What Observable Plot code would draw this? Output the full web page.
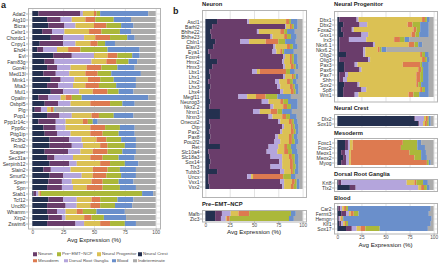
<!DOCTYPE html>
<html><head><meta charset="utf-8">
<script src="https://cdn.jsdelivr.net/npm/d3@7"></script>
<script src="https://cdn.jsdelivr.net/npm/@observablehq/plot@0.6"></script>
<style>
body{margin:0;background:#fff;}
#root{position:relative;width:440px;height:265px;overflow:hidden;font-family:"Liberation Sans",Arial,sans-serif;background:#fff;}
.t{position:absolute;white-space:nowrap;line-height:1;transform:translateY(-50%);}
.sw{position:absolute;width:3.5px;height:3.5px;transform:translateY(-50%);}
</style></head><body><div id="root"></div><script>
// stack order, left to right
const categories = ["Neural Crest","Neuron","Dorsal Root Ganglia","Neural Progenitor","Mesoderm","Pre−EMT−NCP","Blood","Indeterminate"];
const colors = ["#24304f","#6a3d6b","#b4a5dc","#dbc154","#dd7a50","#abb83a","#6a8fcb","#ababab"];
const legendRow1 = ["Neuron","Pre−EMT−NCP","Neural Progenitor","Neural Crest"];
const legendRow2 = ["Mesoderm","Dorsal Root Ganglia","Blood","Indeterminate"];
const xTicks = [0,25,50,75,100];

// panel a
const genesA = ["Adat2","Atg10","Bicra","Celsr1","Chordc1","Cnpy1","Ehd4","Evl","Fam83g","Gon4l","Med13l","Mink1","Mta3","Mul1","Opalin","Osbpl5","Plg","Pop1","Ppp1r14c","Ppp6c","Pttg1ip","Rc3h2","Rnd2","Scaper","Sec31a","Serpinb12","Slain2","Smurf2","Spen","Spn","Stab1","Tcf12","Unc80","Whamm","Xirp2","Zswim6"];
const valsA = [
[5,34,2,9,2,3,39,6],[12,11,9,11,8,15,14,20],[13,13,9,15,10,12,10,18],[8,8,10,20,10,15,9,20],
[15,10,17,9,12,14,6,17],[6,19,10,12,6,6,8,33],[4,5,11,9,10,22,26,13],[17,15,18,11,8,12,6,13],
[10,8,30,12,8,10,7,15],[12,8,11,13,12,13,14,17],[9,10,11,13,10,11,24,12],[15,8,11,11,10,11,18,16],
[12,9,12,10,11,14,16,16],[15,10,13,11,12,9,12,18],[5,8,10,4,5,8,54,6],[10,11,10,16,16,10,10,17],
[2,5,5,3,2,1,1,81],[12,10,10,16,6,12,16,18],[5,14,8,14,4,4,4,47],[9,10,8,20,12,12,12,17],
[10,10,11,16,10,13,13,17],[14,16,10,12,8,12,12,16],[14,18,9,14,6,14,9,16],[10,19,10,10,12,12,11,16],
[12,6,15,14,10,13,13,17],[14,16,6,19,8,12,11,14],[9,6,16,18,12,10,13,16],[14,11,15,9,11,12,12,16],
[13,11,8,16,9,13,12,18],[12,12,9,11,13,14,13,16],[1,2,2,1,1,82,9,2],[13,12,11,12,7,14,13,18],
[12,15,9,11,8,12,14,19],[12,8,7,9,5,11,23,25],[13,11,3,15,6,10,18,24],[12,23,7,13,8,12,9,16]];

// panel b
const genesNeuron = ["Ascl1","Barhl2","Bhlhe22","Bhlhe23","Cbln1","Elavl3","Eya1","Foxn4","Hmx2","Hmx3","Lbx1","Lhx1","Lhx2","Lhx3","Lhx4","Megf11","Neurog3","Nkx2.2","Nrxn1","Nrxn3","Onecut2","Otp","Pax2","Pax8","Pou2f2","Ret","Slc10a4","Slc18a3","Sox14","Tlx3","Tubb3","Uncx","Vsx1","Vsx2"];
const valsNeuron = [
[12,31,2,38,3,2,7,5],[7,75,1,4,2,2,4,5],[5,48,2,22,4,3,8,8],[6,61,2,12,3,4,6,6],
[10,26,9,17,13,7,11,7],[8,62,2,12,3,3,5,5],[3,66,4,4,2,2,10,9],[5,75,2,5,2,2,4,5],
[12,67,2,6,2,2,4,5],[7,73,2,6,3,2,3,4],[4,44,5,3,27,4,5,8],[5,75,2,7,2,2,3,4],
[3,69,4,8,3,3,4,6],[5,69,3,10,3,2,4,4],[4,73,3,8,3,2,3,4],[4,30,9,9,10,12,14,12],
[5,53,7,12,3,5,10,5],[4,63,3,10,4,4,7,5],[15,34,7,11,7,5,10,11],[15,50,4,10,4,4,7,6],
[4,71,2,9,3,2,4,5],[5,74,2,7,2,2,4,4],[4,73,2,9,3,2,3,4],[5,67,3,11,3,2,4,5],
[4,67,6,9,3,3,4,4],[15,50,10,6,3,4,6,6],[3,60,11,7,4,4,6,5],[4,63,12,7,3,3,4,4],
[5,71,3,8,3,2,4,4],[4,63,12,8,3,3,3,4],[12,65,4,7,2,2,4,4],[3,40,4,2,31,8,5,7],
[3,74,4,8,3,2,3,3],[4,75,2,7,3,3,3,3]];
const genesPreEMT = ["Mafb","Zic3"];
const valsPreEMT = [[10,7,9,8,11,43,5,7],[10,6,5,1,3,61,5,9]];
const genesNP = ["Dbx1","Dbx2","Foxa2","Gsx1","Irx3","Nkx6.1","Nkx6.2","Olig2","Olig3","Pax3","Pax6","Pax7","Shh","Sox2","Sp8","Wnt1"];
const valsNP = [
[2,18,2,66,3,2,3,4],[6,17,8,42,5,8,9,5],[4,11,2,62,3,4,9,5],[6,19,7,45,4,4,10,5],
[2,10,18,29,6,5,5,25],[2,35,2,35,6,4,4,12],[2,25,2,13,2,2,5,49],[9,18,2,57,2,3,4,5],
[2,30,2,54,3,2,3,4],[7,11,3,47,18,2,7,5],[7,16,2,59,3,2,6,5],[2,6,3,71,4,3,6,5],
[2,4,4,72,4,3,6,5],[7,14,2,59,2,3,8,5],[6,19,5,56,2,3,4,5],[6,12,4,52,5,6,10,5]];
const genesNC = ["Dlx2","Sox10"];
const valsNC = [[80,1,9,2,2,1,2,3],[84,1,4,2,2,2,2,3]];
const genesMeso = ["Foxc1","Foxc2","Meox1","Meox2","Myog"];
const valsMeso = [[8,3,2,3,52,15,4,13],[8,3,2,3,50,17,8,9],[4,4,4,2,61,12,5,8],[6,3,3,2,66,7,6,7],[4,5,3,2,79,2,2,3]];
const genesDRG = ["Krt8","Tlx2"];
const valsDRG = [[1,3,68,8,2,7,5,6],[13,6,65,3,3,3,3,4]];
const genesBlood = ["Car2","Fermt3","Hemgn","Klf1","Sox17"];
const valsBlood = [[1,2,2,2,2,2,86,3],[4,5,3,2,3,5,73,5],[1,1,1,1,1,1,92,2],[2,2,2,2,1,2,86,3],[9,6,5,4,5,15,50,6]];

const root = document.getElementById("root");
const FONT = '"Liberation Sans",Arial,sans-serif';

function txt(s, x, y, size, opts = {}) {
  const d = document.createElement("div");
  d.className = "t";
  d.textContent = s;
  d.style.left = x + "px";
  d.style.top = y + "px";
  d.style.fontSize = size + "px";
  d.style.color = opts.color || "#1a1a1a";
  if (opts.weight) d.style.fontWeight = opts.weight;
  if (opts.center) d.style.transform = "translate(-50%,-50%)";
  root.appendChild(d);
}

function facet(genes, vals, f, withAxis) {
  const rows = [];
  genes.forEach((g, i) => categories.forEach((c, j) => rows.push({gene: g, type: c, value: vals[i][j]})));
  const mL = 34, mB = withAxis ? 9 : 0;
  const w = f.r - f.l, h = f.b - f.t;
  const marks = [
    Plot.gridX(xTicks, {stroke: "#e3e3e3", strokeOpacity: 1}),
    Plot.gridY(genes, {stroke: "#e3e3e3", strokeOpacity: 1}),
    Plot.barX(rows, {x: "value", y: "gene", fill: "type", order: categories}),
    Plot.frame({stroke: "#b3b3b3"}),
    Plot.axisY({tickSize: 2, tickPadding: 1, stroke: "#b3b3b3", fill: "#333", label: null})
  ];
  if (withAxis) marks.push(Plot.axisX({ticks: xTicks, tickSize: 1.5, tickPadding: 0, fontSize: 4.7, stroke: "#b3b3b3", fill: "#4d4d4d", label: null}));
  const svg = Plot.plot({
    width: mL + w + 2, height: h + mB + 2,
    marginLeft: mL, marginRight: 2, marginTop: 1, marginBottom: mB + 1,
    style: {background: "none", fontFamily: FONT, fontSize: "5px", color: "#4d4d4d", overflow: "visible"},
    x: withAxis ? {domain: [-3.5, 103.5]} : {domain: [-3.5, 103.5], axis: null},
    y: {domain: genes, paddingInner: 0.1, paddingOuter: 0.15},
    color: {domain: categories, range: colors},
    marks
  });
  svg.style.position = "absolute";
  svg.style.left = (f.l - mL) + "px";
  svg.style.top = (f.t - 1) + "px";
  root.appendChild(svg);
}

// panel a
facet(genesA, valsA, {l: 28, r: 160, t: 7.5, b: 228}, true);
txt("a", 1, 4.5, 9, {weight: "bold"});
txt("Avg Expression (%)", 94, 239.5, 6.2, {center: true});

// panel b
txt("b", 173, 11, 9, {weight: "bold"});
txt("Neuron", 202, 4.5, 5.8, {weight: "bold"});
facet(genesNeuron, valsNeuron, {l: 202, r: 306, t: 9.5, b: 196.5}, false);
txt("Pre−EMT−NCP", 202, 204.5, 5.8, {weight: "bold"});
facet(genesPreEMT, valsPreEMT, {l: 202, r: 306, t: 209.5, b: 221}, true);
txt("Avg Expression (%)", 254, 231.5, 6.2, {center: true});

txt("Neural Progenitor", 334, 4.5, 5.8, {weight: "bold"});
facet(genesNP, valsNP, {l: 334, r: 437, t: 10.5, b: 101}, false);
txt("Neural Crest", 334, 109, 5.8, {weight: "bold"});
facet(genesNC, valsNC, {l: 334, r: 437, t: 113.5, b: 126.5}, false);
txt("Mesoderm", 334, 133.5, 5.8, {weight: "bold"});
facet(genesMeso, valsMeso, {l: 334, r: 437, t: 137.5, b: 166.5}, false);
txt("Dorsal Root Ganglia", 334, 174.5, 5.8, {weight: "bold"});
facet(genesDRG, valsDRG, {l: 334, r: 437, t: 179, b: 191}, false);
txt("Blood", 334, 198.5, 5.8, {weight: "bold"});
facet(genesBlood, valsBlood, {l: 334, r: 437, t: 203, b: 233.5}, true);
txt("Avg Expression (%)", 385.5, 244.5, 6.2, {center: true});

// legend
function legendRow(items, xs, y) {
  items.forEach((name, k) => {
    const s = document.createElement("div");
    s.className = "sw";
    s.style.left = xs[k] + "px";
    s.style.top = y + "px";
    s.style.background = colors[categories.indexOf(name)];
    root.appendChild(s);
    txt(name, xs[k] + 5, y, 4.4, {color: "#4d4d4d"});
  });
}
legendRow(legendRow1, [33, 57, 97, 138], 254.3);
legendRow(legendRow2, [33, 64, 112, 133], 260.7);
</script></body></html>
